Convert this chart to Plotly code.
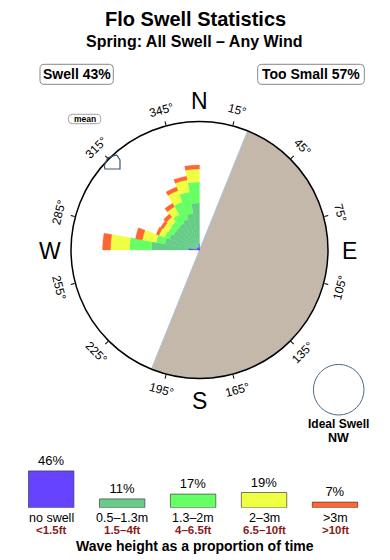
import math
import plotly.graph_objects as go

# ---------------- data ----------------
directions = [275, 285, 295, 305, 315, 325, 335, 345, 355]   # bin centres (deg)
bin_width = 10
# radial segment lengths per wave-height band (stacked outward)
no_swell   = [11, 4, 3, 3, 3, 3, 3, 3, 6]
band_05_13 = [37, 31, 29, 27, 27, 28, 30, 34, 41]
band_13_2  = [22, 9, 5, 6, 7, 10, 18, 22, 21]
band_2_3   = [19, 14, 6, 6, 6, 9, 12, 12, 13]
band_gt3   = [8, 7, 3, 3, 4, 4, 4, 4, 4]
radial_max = 128.5

too_small_from = 22       # shaded sector start bearing
too_small_to = 202        # shaded sector end bearing

legend_labels = ["no swell", "0.5–1.3m", "1.3–2m", "2–3m", ">3m"]
legend_feet = ["<1.5ft", "1.5–4ft", "4–6.5ft", "6.5–10ft", ">10ft"]
legend_pct = [46, 11, 17, 19, 7]

tick_degrees = [15, 45, 75, 105, 135, 165, 195, 225, 255, 285, 315, 345]
compass = [("N", 0), ("E", 90), ("S", 180), ("W", 270)]

swell_pct = 43
too_small_pct = 57
ideal_dir = "NW"

colors = ["#6644FF", "#66CC88", "#66FF66", "#EEFF44", "#FF6633"]

# ---------------- geometry helpers ----------------
W, H = 390, 560
CX, CY, RPX = 199.5, 250.0, 128.5
FONT = "Liberation Sans, Arial, sans-serif"


def px(x, y):
    return x / W, 1 - y / H


def polar_px(bearing, r):
    a = math.radians(bearing)
    return CX + r * math.sin(a), CY - r * math.cos(a)


def rrect(x0, y0, x1, y1, r):
    def P(x, y):
        a, b = px(x, y)
        return f"{a:.5f},{b:.5f}"
    return (f"M {P(x0+r, y0)} L {P(x1-r, y0)} Q {P(x1, y0)} {P(x1, y0+r)} "
            f"L {P(x1, y1-r)} Q {P(x1, y1)} {P(x1-r, y1)} L {P(x0+r, y1)} "
            f"Q {P(x0, y1)} {P(x0, y1-r)} L {P(x0, y0+r)} Q {P(x0, y0)} {P(x0+r, y0)} Z")


fig = go.Figure()

# shaded "too small" half
span = (too_small_to - too_small_from)
fig.add_trace(go.Barpolar(
    r=[radial_max], theta=[too_small_from + span / 2], width=[span],
    marker=dict(color="#C4B8AB", line=dict(color="#A8C4E0", width=1)),
    hoverinfo="skip", subplot="polar"))

bands = [no_swell, band_05_13, band_13_2, band_2_3, band_gt3]
for vals, col in zip(bands, colors):
    fig.add_trace(go.Barpolar(
        r=vals, theta=directions, width=[bin_width] * len(directions),
        marker=dict(color=col, line=dict(color=col, width=0.3)),
        hoverinfo="skip", subplot="polar"))

# legend bar chart
fig.add_trace(go.Bar(
    x=list(range(len(legend_pct))), y=legend_pct, width=0.64,
    marker=dict(color=colors, line=dict(color="rgba(50,50,50,0.65)", width=1)),
    text=[f"{p}%" for p in legend_pct], textposition="outside",
    textfont=dict(size=13, color="black", family=FONT), cliponaxis=False,
    xaxis="x2", yaxis="y2", hoverinfo="skip"))

x_lo = (CX - RPX) / W
x_hi = (CX + RPX) / W
y_lo = 1 - (CY + RPX) / H
y_hi = 1 - (CY - RPX) / H

b0, step = 51.2, 70.95
base_y = 1 - 507.7 / H
fig.update_layout(
    width=W, height=H, margin=dict(l=0, r=0, t=0, b=0),
    paper_bgcolor="white", plot_bgcolor="white", showlegend=False,
    font=dict(family=FONT, color="black"),
    polar=dict(
        domain=dict(x=[x_lo, x_hi], y=[y_lo, y_hi]),
        bgcolor="white", barmode="stack", bargap=0, hole=0,
        radialaxis=dict(visible=False, range=[0, radial_max]),
        angularaxis=dict(rotation=90, direction="clockwise", showgrid=False,
                         tickmode="array", tickvals=tick_degrees, ticks="outside",
                         ticklen=4, tickwidth=1, tickcolor="black",
                         showticklabels=False, showline=True,
                         linecolor="black", linewidth=1.5, layer="above traces"),
    ),
    xaxis2=dict(domain=[0, 1], range=[-b0 / step, (W - b0) / step], visible=False,
                anchor="y2", fixedrange=True),
    yaxis2=dict(domain=[base_y, base_y + 40 / H], range=[0, 50], visible=False,
                anchor="x2", fixedrange=True),
)

ann = []
shapes = []


def text(x, y, s, size, bold=False, color="black", angle=0):
    xx, yy = px(x, y)
    ann.append(dict(x=xx, y=yy, xref="paper", yref="paper",
                    text=f"<b>{s}</b>" if bold else s, showarrow=False,
                    xanchor="center", yanchor="middle", textangle=angle,
                    font=dict(size=size, color=color, family=FONT)))


text(195, 19, "Flo Swell Statistics", 20, bold=True)
text(194, 42, "Spring: All Swell – Any Wind", 16, bold=True)

text(76.7, 74.5, f"Swell {swell_pct}%", 14, bold=True)
shapes.append(dict(type="path", path=rrect(40, 64.3, 113.3, 84.3, 4),
                   line=dict(color="#888888", width=1), xref="paper", yref="paper"))
text(311, 74.5, f"Too Small {too_small_pct}%", 14, bold=True)
shapes.append(dict(type="path", path=rrect(257.7, 64.3, 364.3, 84.3, 4),
                   line=dict(color="#888888", width=1), xref="paper", yref="paper"))
text(84.5, 119.2, "mean", 8.5, bold=True)
shapes.append(dict(type="path", path=rrect(68.3, 114.3, 100.7, 123.7, 4),
                   line=dict(color="#888888", width=0.8), xref="paper", yref="paper"))

# compass letters
for lab, b in compass:
    x, y = polar_px(b, 150)
    text(x, y + 1, lab, 23)

# degree labels (tangential)
for d in tick_degrees:
    x, y = polar_px(d, 145)
    a = d % 180
    if a > 90:
        a -= 180
    text(x, y, f"{d}°", 12, angle=a)

# mean direction arrow
arrow_pts = [(107.7, 157.7), (116.7, 155), (120, 160), (120, 169), (105, 169), (104.3, 165.7)]
p = "M " + " L ".join("{:.5f},{:.5f}".format(*px(x, y)) for x, y in arrow_pts) + " Z"
shapes.append(dict(type="path", path=p, line=dict(color="#3A5570", width=1.2),
                   xref="paper", yref="paper"))

# ideal swell circle
icx, icy, ir = 338.7, 389.7, 25.3
a0, b0_ = px(icx - ir, icy + ir)
a1, b1_ = px(icx + ir, icy - ir)
shapes.append(dict(type="circle", x0=a0, y0=b0_, x1=a1, y1=b1_, xref="paper", yref="paper",
                   line=dict(color="#4A6A8A", width=1)))
text(338.5, 424, "Ideal Swell", 12, bold=True)
text(338.5, 438, ideal_dir, 12.5, bold=True)

# legend labels under bars
for i, (lab, ft) in enumerate(zip(legend_labels, legend_feet)):
    ann.append(dict(x=i, y=1 - 517.8 / H, xref="x2", yref="paper", text=lab, showarrow=False,
                    xanchor="center", yanchor="middle",
                    font=dict(size=12.5, color="black", family=FONT)))
    ann.append(dict(x=i, y=1 - 530 / H, xref="x2", yref="paper", text=f"<b>{ft}</b>",
                    showarrow=False, xanchor="center", yanchor="middle",
                    font=dict(size=11.5, color="#8B1A1A", family=FONT)))

text(195, 545.5, "Wave height as a proportion of time", 14, bold=True)

fig.update_layout(annotations=ann, shapes=shapes)
fig.write_html("out.html")
